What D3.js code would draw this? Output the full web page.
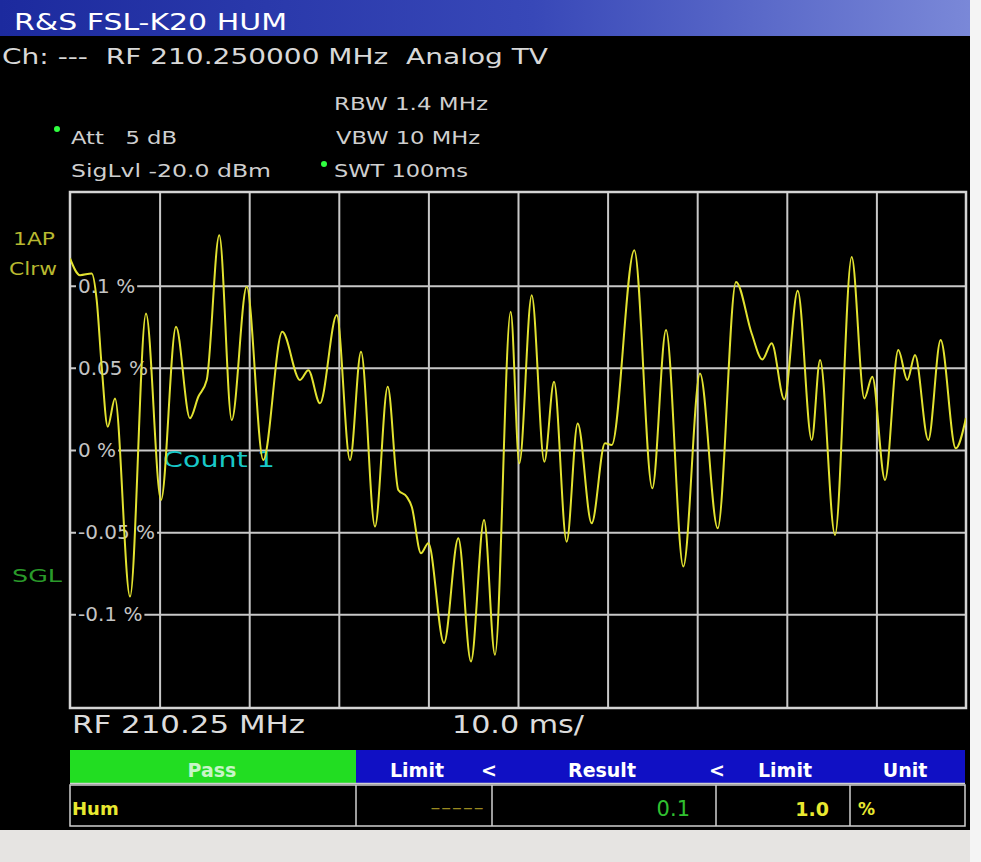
<!DOCTYPE html>
<html>
<head>
<meta charset="utf-8">
<script src="https://cdn.jsdelivr.net/npm/d3@7"></script>
<style>
  html, body { margin: 0; padding: 0; background: #000; }
  svg { display: block; }
  text { font-family: "DejaVu Sans", Verdana, sans-serif; white-space: pre; }
</style>
</head>
<body>
<svg id="chart" width="981" height="862"></svg>
<script>
// ---------- DATA ----------
const timeMs = [0, 1.12, 2.42, 2.98, 3.54, 4.21, 5.02, 6.70, 8.48, 10.16, 11.83, 13.39, 14.32, 15.26, 16.66,
  18.05, 19.72, 21.57, 23.69, 25.67, 26.60, 27.90, 29.77, 31.25, 32.48, 34.04, 35.46, 36.64, 37.58, 38.14,
  39.17, 39.99, 41.74, 43.34, 44.75, 46.21, 47.43, 49.18, 50.15, 51.53, 52.94, 54.02, 55.43, 56.66, 58.22,
  59.71, 60.46, 62.98, 64.99, 66.52, 68.45, 70.31, 72.29, 74.33, 76.08, 77.27, 78.31, 79.72, 81.22, 82.78,
  83.71, 85.38, 87.24, 88.65, 89.54, 90.96, 92.44, 93.45, 94.31, 95.79, 97.17, 98.85, 100];
const humPct = [0.1166, 0.1064, 0.1074, 0.0912, 0.0506, 0.0142, 0.0314, -0.0892, 0.0831, -0.0304, 0.0750,
  0.0193, 0.0324, 0.0426, 0.1307, 0.0182, 0.0993, -0.0061, 0.0719, 0.0426, 0.0486, 0.0284, 0.0821, -0.0061,
  0.0598, -0.0466, 0.0385, -0.0243, -0.0284, -0.0345, -0.0628, -0.0567, -0.1175, -0.0537, -0.1287, -0.0426,
  -0.1246, 0.0841, -0.0081, 0.0942, -0.0071, 0.0415, -0.0558, 0.0162, -0.0446, 0.0041, 0.0030, 0.1216,
  -0.0233, 0.0730, -0.0709, 0.0466, -0.0476, 0.1023, 0.0709, 0.0551, 0.0649, 0.0308, 0.0969, 0.0061,
  0.0547, -0.0517, 0.1175, 0.0314, 0.0446, -0.0182, 0.0608, 0.0426, 0.0578, 0.0061, 0.0669, 0.0010, 0.0195];
const yTickValues = [-0.1, -0.05, 0, 0.05, 0.1];
const xGridValues = [10, 20, 30, 40, 50, 60, 70, 80, 90];
const yDomain = [-0.157, 0.157];
const xDomain = [0, 100];
const tableHeader = ["Limit", "<", "Result", "<", "Limit", "Unit"];
const tableRow = { name: "Hum", lower: "-----", result: "0.1", upper: "1.0", unit: "%" };
const verdict = "Pass";

// ---------- LAYOUT ----------
const svg = d3.select("#chart");
const P = { left: 70, right: 966, top: 192, bottom: 708 };
const x = d3.scaleLinear(xDomain, [P.left, P.right]);
const y = d3.scaleLinear(yDomain, [P.bottom, P.top]);

// backgrounds
svg.append("rect").attr("x", 0).attr("y", 0).attr("width", 981).attr("height", 862).attr("fill", "#000");
const grad = svg.append("defs").append("linearGradient").attr("id", "tb").attr("x1", 0).attr("x2", 1);
grad.append("stop").attr("offset", "0%").attr("stop-color", "#1c2a9e");
grad.append("stop").attr("offset", "55%").attr("stop-color", "#3848b8");
grad.append("stop").attr("offset", "100%").attr("stop-color", "#7a88d8");
svg.append("rect").attr("x", 0).attr("y", 0).attr("width", 970).attr("height", 36).attr("fill", "url(#tb)");
svg.append("rect").attr("x", 0).attr("y", 830).attr("width", 981).attr("height", 32).attr("fill", "#e6e4e2");
svg.append("rect").attr("x", 970).attr("y", 0).attr("width", 11).attr("height", 862).attr("fill", "#f4f4f4");

// texts helper
function txt(s, xx, yy, size, fill, opts = {}) {
  const t = svg.append("text").attr("x", xx).attr("y", yy).attr("font-size", size).attr("fill", fill)
    .attr("xml:space", "preserve").text(s);
  if (opts.w) t.attr("textLength", opts.w).attr("lengthAdjust", "spacingAndGlyphs");
  if (opts.weight) t.attr("font-weight", opts.weight);
  if (opts.anchor) t.attr("text-anchor", opts.anchor);
  return t;
}

txt("R&S FSL-K20 HUM", 14, 30, 23, "#ffffff", { w: 273 });
txt("Ch: ---  RF 210.250000 MHz  Analog TV", 2, 64, 22, "#d8d8d8", { w: 546 });
txt("RBW 1.4 MHz", 334, 110, 18, "#cfcfcf", { w: 154 });
txt("VBW 10 MHz", 336, 144, 18, "#cfcfcf", { w: 144 });
txt("Att   5 dB", 71, 144, 18, "#cfcfcf", { w: 106 });
txt("SigLvl -20.0 dBm", 71, 177, 18, "#cfcfcf", { w: 200 });
txt("SWT 100ms", 334, 177, 18, "#cfcfcf", { w: 134 });
svg.append("circle").attr("cx", 57).attr("cy", 129).attr("r", 3).attr("fill", "#30ff40");
svg.append("circle").attr("cx", 324).attr("cy", 164).attr("r", 3).attr("fill", "#30ff40");

txt("1AP", 13, 245, 18, "#b8b830", { w: 42 });
txt("Clrw", 9, 275, 18, "#b8b830", { w: 48 });
txt("SGL", 12, 582, 18, "#2a9a2a", { w: 50 });

// ---------- GRID via axes ----------
const gx = svg.append("g").attr("transform", `translate(0,${P.bottom})`)
  .call(d3.axisBottom(x).tickValues(xGridValues).tickSize(-(P.bottom - P.top)).tickFormat(""));
gx.select(".domain").remove();
gx.selectAll("line").attr("stroke", "#c8c8c8").attr("stroke-width", 2);

const gy = svg.append("g").attr("transform", `translate(${P.left},0)`)
  .call(d3.axisLeft(y).tickValues(yTickValues).tickSize(-(P.right - P.left)).tickFormat(""));
gy.select(".domain").remove();
gy.selectAll("line").attr("stroke", "#c8c8c8").attr("stroke-width", 2);

// frame
svg.append("rect").attr("x", P.left).attr("y", P.top).attr("width", P.right - P.left).attr("height", P.bottom - P.top)
  .attr("fill", "none").attr("stroke", "#d4d4d4").attr("stroke-width", 2.5);

// tick labels inside the plot
const fmt = v => (v === 0 ? "0 %" : `${v} %`);
const gl = svg.append("g").attr("transform", `translate(${P.left},0)`)
  .call(d3.axisRight(y).tickValues(yTickValues).tickSize(0).tickPadding(8).tickFormat(fmt));
gl.select(".domain").remove();
gl.selectAll("text").attr("font-size", 20).attr("fill", "#c4c4c4")
  .attr("font-family", "'DejaVu Sans', Verdana, sans-serif");
gl.selectAll(".tick").each(function () {
  const t = d3.select(this).select("text");
  const b = t.node().getBBox();
  d3.select(this).insert("rect", "text").attr("x", b.x - 2).attr("y", b.y + 2)
    .attr("width", b.width + 4).attr("height", b.height - 4).attr("fill", "#000");
});

// Count label
txt("Count 1", 163, 467, 22, "#18c8c8", { w: 112 });

// ---------- TRACE ----------
const data = timeMs.map((t, i) => ({ t, v: humPct[i] }));
svg.append("clipPath").attr("id", "clip").append("rect")
  .attr("x", P.left).attr("y", P.top).attr("width", P.right - P.left).attr("height", P.bottom - P.top);
svg.append("path").datum(data).attr("clip-path", "url(#clip)")
  .attr("fill", "none").attr("stroke", "#e2e230").attr("stroke-width", 2).attr("stroke-linejoin", "round")
  .attr("d", d3.line().x(d => x(d.t)).y(d => y(d.v)).curve(d3.curveMonotoneX));

// ---------- BOTTOM ----------
txt("RF 210.25 MHz", 72, 733, 24, "#dcdcdc", { w: 233 });
txt("10.0 ms/", 452, 733, 24, "#dcdcdc", { w: 132 });

// table
svg.append("rect").attr("x", 70).attr("y", 750).attr("width", 286).attr("height", 33).attr("fill", "#22dd22");
svg.append("rect").attr("x", 356).attr("y", 750).attr("width", 609).attr("height", 33).attr("fill", "#1010c4");
txt(verdict, 212, 777, 19, "#c8f5c8", { weight: "bold", anchor: "middle" });
const hdrX = [417, 489, 602, 717, 785, 905];
tableHeader.forEach((h, i) => txt(h, hdrX[i], 777, 19, "#ffffff", { weight: "bold", anchor: "middle" }));

// row borders
const colX = [70, 356, 492, 716, 850, 965];
svg.append("rect").attr("x", 70).attr("y", 785).attr("width", 895).attr("height", 41)
  .attr("fill", "#000").attr("stroke", "#d0d0d0").attr("stroke-width", 1.5);
colX.slice(1, -1).forEach(cx => svg.append("line").attr("x1", cx).attr("x2", cx).attr("y1", 785).attr("y2", 826)
  .attr("stroke", "#d0d0d0").attr("stroke-width", 1.5));
svg.append("line").attr("x1", 70).attr("x2", 965).attr("y1", 783.5).attr("y2", 783.5).attr("stroke", "#d0d0d0").attr("stroke-width", 1.5);

txt(tableRow.name, 72, 815, 18, "#e8e830", { weight: "bold" });
txt(tableRow.lower, 484, 813, 14, "#9a8a20", { anchor: "end", w: 54 });
txt(tableRow.result, 690, 816, 21, "#30c030", { anchor: "end" });
txt(tableRow.upper, 829, 816, 19, "#e8e830", { anchor: "end", weight: "bold" });
txt(tableRow.unit, 858, 815, 17, "#e8e830", { weight: "bold" });
</script>
</body>
</html>
